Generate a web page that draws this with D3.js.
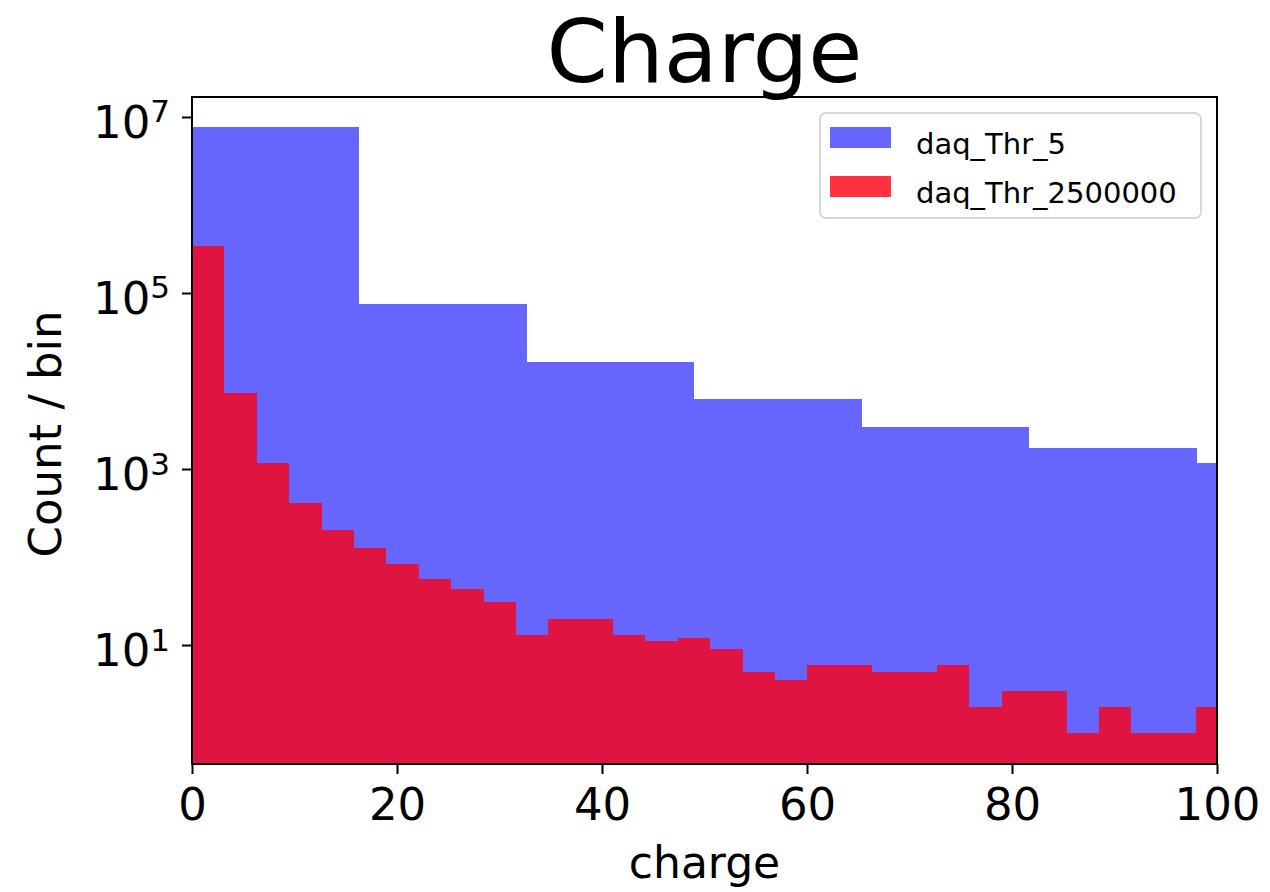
<!DOCTYPE html>
<html>
<head>
<meta charset="utf-8">
<script src="https://cdn.jsdelivr.net/npm/d3@7"></script>
<style>
  body { margin: 0; background: #fff; }
  text { font-family: "DejaVu Sans", sans-serif; fill: #000; }
</style>
</head>
<body>
<div id="chart"></div>
<script>
// bin edges (charge units) and counts
var blueEdges = [0, 16.34, 32.68, 49.02, 65.36, 81.70, 98.04, 114.38];
var blueCounts = [7.76e6, 7.5e4, 1.63e4, 6240, 3030, 1730, 1170];

var redEdges = [0, 3.16, 6.32, 9.48, 12.64, 15.80, 18.96, 22.12, 25.28, 28.44,
                31.60, 34.76, 37.92, 41.08, 44.24, 47.40, 50.56, 53.72, 56.88, 60.04,
                63.20, 66.36, 69.52, 72.68, 75.84, 79.00, 82.16, 85.32, 88.48, 91.64,
                94.80, 97.96, 101.12];
var redCounts = [344000, 7310, 1170, 414, 203, 126, 83, 56, 43, 31,
                 13, 20, 20, 13, 11, 12, 9, 5, 4, 6,
                 6, 5, 5, 6, 2, 3, 3, 1, 2, 1,
                 1, 2];

var seriesNames = ["daq_Thr_5", "daq_Thr_2500000"];
var xTicks = [0, 20, 40, 60, 80, 100];
var yTicks = [10, 1000, 1e5, 1e7];

var W = 1270, H = 892;
var pLeft = 192, pRight = 1217, pTop = 97, pBottom = 764;

var svg = d3.select("#chart").append("svg")
    .attr("width", W).attr("height", H);

var x = d3.scaleLinear().domain([0, 100]).range([pLeft, pRight]);
var y = d3.scaleLog().domain([0.4446, 1.687e7]).range([pBottom, pTop]);

svg.append("clipPath").attr("id", "plotclip")
  .append("rect").attr("x", pLeft).attr("y", pTop)
  .attr("width", pRight - pLeft).attr("height", pBottom - pTop);

function bins(edges, counts) {
    return counts.map(function(c, i) { return {x0: edges[i], x1: edges[i + 1], v: c}; });
}

var plot = svg.append("g").attr("clip-path", "url(#plotclip)");

plot.selectAll("rect.blue")
    .data(bins(blueEdges, blueCounts))
    .enter().append("rect")
    .attr("class", "blue")
    .attr("x", function(d) { return x(d.x0); })
    .attr("width", function(d) { return x(d.x1) - x(d.x0); })
    .attr("y", function(d) { return y(d.v); })
    .attr("height", function(d) { return pBottom - y(d.v); })
    .attr("fill", "blue").attr("fill-opacity", 0.6)
    .attr("shape-rendering", "crispEdges");

plot.selectAll("rect.red")
    .data(bins(redEdges, redCounts))
    .enter().append("rect")
    .attr("class", "red")
    .attr("x", function(d) { return x(d.x0); })
    .attr("width", function(d) { return x(d.x1) - x(d.x0); })
    .attr("y", function(d) { return y(d.v); })
    .attr("height", function(d) { return pBottom - y(d.v); })
    .attr("fill", "rgb(255,0,16)").attr("fill-opacity", 0.8)
    .attr("shape-rendering", "crispEdges");

// frame
svg.append("rect")
    .attr("x", pLeft).attr("y", pTop)
    .attr("width", pRight - pLeft).attr("height", pBottom - pTop)
    .attr("fill", "none").attr("stroke", "#000").attr("stroke-width", 2);

// x axis
var xAxis = d3.axisBottom(x).tickValues(xTicks).tickSize(10).tickPadding(12)
    .tickFormat(d3.format("d"));
var gx = svg.append("g").attr("transform", "translate(0," + pBottom + ")").call(xAxis);
gx.select(".domain").remove();
gx.selectAll(".tick line").attr("stroke-width", 2);
gx.selectAll(".tick text").style("font-size", "45px").attr("dy", "0.75em")
    .style("font-family", "DejaVu Sans");

// y axis, labels as 10^n
var yAxis = d3.axisLeft(y).tickValues(yTicks).tickSize(10).tickFormat("");
var gy = svg.append("g").attr("transform", "translate(" + pLeft + ",0)").call(yAxis);
gy.select(".domain").remove();
gy.selectAll(".tick line").attr("stroke-width", 2);

var ylab = svg.append("g").selectAll("text")
    .data(yTicks).enter().append("text")
    .attr("x", 170)
    .attr("y", function(d) { return y(d) + 21; })
    .attr("text-anchor", "end")
    .style("font-size", "45px");
ylab.append("tspan").text("10");
ylab.append("tspan")
    .attr("dy", "-0.5em")
    .style("font-size", "31px")
    .text(function(d) { return Math.round(Math.log10(d)); });

// titles
svg.append("text")
    .attr("x", (pLeft + pRight) / 2).attr("y", 82)
    .attr("text-anchor", "middle")
    .style("font-size", "88px")
    .text("Charge");

svg.append("text")
    .attr("x", (pLeft + pRight) / 2).attr("y", 878)
    .attr("text-anchor", "middle")
    .style("font-size", "44px")
    .text("charge");

svg.append("text")
    .attr("transform", "translate(61," + 434 + ") rotate(-90)")
    .attr("text-anchor", "middle")
    .style("font-size", "45px")
    .text("Count / bin");

// legend
var legend = svg.append("g");
legend.append("rect")
    .attr("x", 820).attr("y", 113).attr("width", 381).attr("height", 105)
    .attr("rx", 6).attr("fill", "#fff").attr("fill-opacity", 0.8)
    .attr("stroke", "#cccccc").attr("stroke-width", 1.5);

var legendColors = [{fill: "blue", op: 0.6}, {fill: "rgb(255,0,16)", op: 0.8}];
var items = legend.selectAll("g.item")
    .data(seriesNames).enter().append("g")
    .attr("transform", function(d, i) { return "translate(0," + (i * 49) + ")"; });
items.append("rect")
    .attr("x", 830).attr("y", 127).attr("width", 61).attr("height", 21)
    .attr("fill", function(d, i) { return legendColors[i].fill; })
    .attr("fill-opacity", function(d, i) { return legendColors[i].op; });
items.append("text")
    .attr("x", 916).attr("y", 154)
    .style("font-size", "29px")
    .text(function(d) { return d; });
</script>
</body>
</html>
